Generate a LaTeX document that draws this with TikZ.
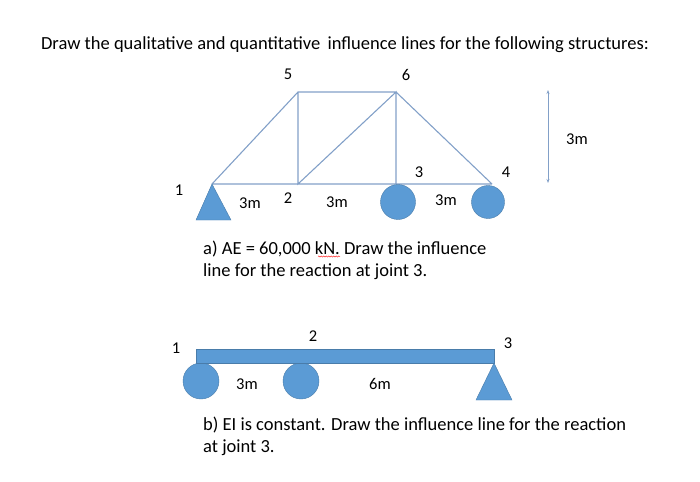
\documentclass[tikz,border=0pt]{standalone}
\usepackage{fontspec}
\setmainfont{Carlito}
\usetikzlibrary{arrows.meta,decorations.pathmorphing}
\definecolor{mem}{RGB}{130,160,200}
\definecolor{sup}{RGB}{91,155,213}
\tikzset{member/.style={draw=mem,line width=1.1pt},
 supfill/.style={fill=sup,draw=sup!80!black,line width=0.4pt},
 lbl/.style={font=\fontsize{16.5}{19}\selectfont,inner sep=0pt},
 txt/.style={font=\fontsize{18.5}{21.5}\selectfont,inner sep=0pt,align=left}}
\begin{document}
\begin{tikzpicture}[x=1pt,y=-1pt]
\useasboundingbox (0,0) rectangle (700,481);
\node[txt] (title) at (345,45) {Draw the qualitative and quantitative\, influence lines for the following structures:};
% truss
\coordinate (n1) at (212,184); \coordinate (n2) at (298,184);
\coordinate (n3) at (396,184); \coordinate (n4) at (492,184);
\coordinate (n5) at (298,92); \coordinate (n6) at (396,92);
\draw[member] (n1)--(n4) (n1)--(n5)--(n6)--(n4) (n5)--(n2)--(n6)--(n3);
\draw[supfill] (n1)--(231,220)--(196,220)--cycle;
\node[supfill,circle,minimum size=35pt,inner sep=0pt] (c3) at (398,202) {};
\node[supfill,circle,minimum size=33pt,inner sep=0pt] (c4) at (488,202) {};
\coordinate (ar1) at (548,90); \coordinate (ar2) at (548,183);
\draw[draw=mem,line width=0.8pt,{Stealth[length=4pt]}-{Stealth[length=4pt]}] (ar1)--(ar2);
\node[lbl] (l1) at (179,190) {1};
\node[lbl] (l2) at (288,198) {2};
\node[lbl] (l3) at (419,172) {3};
\node[lbl] (l4) at (506,172) {4};
\node[lbl] (l5) at (288,74) {5};
\node[lbl] (l6) at (406,75) {6};
\node[lbl] (m1) at (250,203) {3m};
\node[lbl] (m2) at (337,202) {3m};
\node[lbl] (m3) at (446,200) {3m};
\node[lbl] (m4) at (577,139) {3m};
\node[txt,anchor=north west] (ta) at (203,241) {a) AE = 60,000 kN. Draw the influence\\line for the reaction at joint 3.};
\draw[red,line width=0.4pt,decorate,decoration={snake,amplitude=0.6pt,segment length=2.5pt}] (318,256.5)--(340,256.5);
% beam
\node[supfill,circle,minimum size=36pt,inner sep=0pt] (b1) at (201,381) {};
\node[supfill,circle,minimum size=36pt,inner sep=0pt] (b2) at (301,381) {};
\draw[supfill] (494,363)--(512,400)--(476,400)--cycle;
\draw[supfill] (196,349) rectangle (494,363);
\node[lbl] (k1) at (176,348) {1};
\node[lbl] (k2) at (313,336) {2};
\node[lbl] (k3) at (508,343) {3};
\node[lbl] (k4) at (247,384) {3m};
\node[lbl] (k5) at (380,384) {6m};
\node[txt,anchor=north west] (tb) at (203,417) {b) EI is constant. Draw the influence line for the reaction\\at joint 3.};
\end{tikzpicture}
\end{document}
